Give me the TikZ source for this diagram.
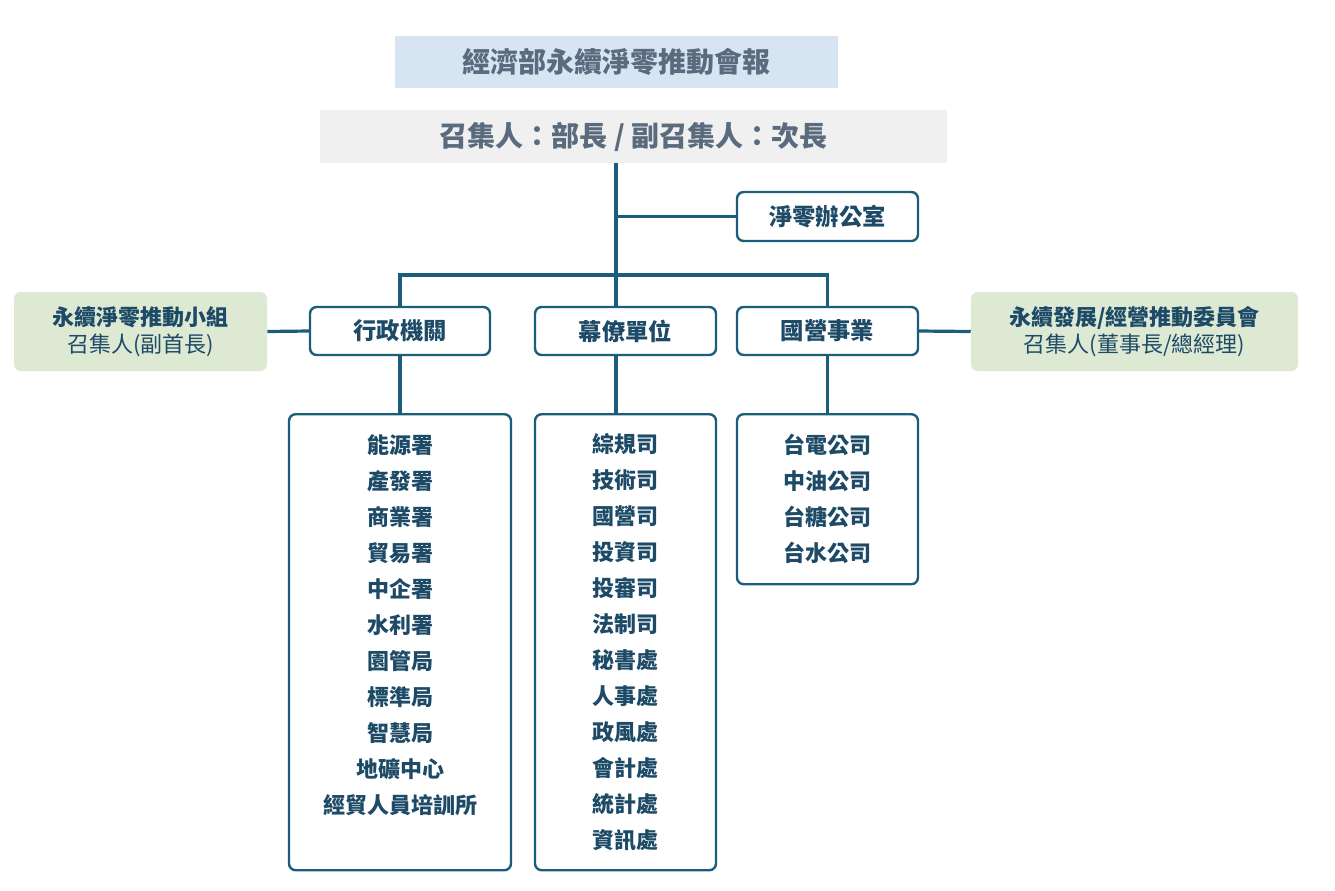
\documentclass[tikz,border=0pt]{standalone}
\usepackage{fontspec}
\setmainfont{Noto Sans CJK TC}
\usetikzlibrary{positioning}
\definecolor{lineblue}{HTML}{1B5E7B}
\definecolor{textblue}{HTML}{1D4A66}
\definecolor{titlefill}{HTML}{D7E5F3}
\definecolor{graytext}{HTML}{5B6B7E}
\definecolor{greenfill}{HTML}{DDE9D3}
\begin{document}
\begin{tikzpicture}[x=0.75pt,y=-0.75pt,
			unitbox/.style={draw=lineblue, line width=1.8pt, rounded corners=5pt, fill=white, text=textblue, font=\bfseries\fontsize{17.5}{20}\selectfont, inner sep=0pt},
			listbox/.style={unitbox, anchor=north, align=center, font=\bfseries\fontsize{16.5}{27}\selectfont},
			groupbox/.style={fill=greenfill, rounded corners=5pt, text=textblue, align=center, inner sep=0pt, font=\fontsize{16.5}{20}\selectfont},
			link/.style={draw=lineblue, line width=2.4pt},
			]
			\useasboundingbox (0,0) rectangle (1335,890);
			%Headers
			\node[fill=titlefill, text=graytext, minimum width=443*0.75pt, minimum height=52*0.75pt, font=\bfseries\fontsize{21}{23}\selectfont] (title) at (616.5,62) {經濟部永續淨零推動會報};
			\node[fill=black!6, text=graytext, minimum width=627*0.75pt, minimum height=53*0.75pt, font=\bfseries\fontsize{21}{24}\selectfont] (chair) at (633.5,136.5) {召集人：部長 / 副召集人：次長};
			%Units
			\node[unitbox, minimum width=181*0.75pt, minimum height=49*0.75pt] (office) at (827.5,216.5) {淨零辦公室};
			\node[unitbox, minimum width=180*0.75pt, minimum height=48*0.75pt] (admin) at (400,331) {行政機關};
			\node[unitbox, minimum width=181*0.75pt, minimum height=48*0.75pt] (staff) at (625.5,331) {幕僚單位};
			\node[unitbox, minimum width=181*0.75pt, minimum height=48*0.75pt] (soe) at (827.5,331) {國營事業};
			\node[groupbox, minimum width=253*0.75pt, minimum height=79*0.75pt] (leftgrp) at (140.5,331.5) {\textbf{永續淨零推動小組}\\召集人(副首長)};
			\node[groupbox, minimum width=327*0.75pt, minimum height=79*0.75pt] (rightgrp) at (1134.5,331.5) {\textbf{永續發展/經營推動委員會}\\召集人(董事長/總經理)};
			%Lists
			\node[listbox, minimum width=222*0.75pt, minimum height=456*0.75pt, inner ysep=14pt] (adminlist) at (400,413)
				{能源署\\產發署\\商業署\\貿易署\\中企署\\水利署\\園管局\\標準局\\智慧局\\地礦中心\\經貿人員培訓所\\\mbox{}};
			\node[listbox, minimum width=181*0.75pt, minimum height=456*0.75pt, inner ysep=14pt] (stafflist) at (625.5,413)
				{綜規司\\技術司\\國營司\\投資司\\投審司\\法制司\\秘書處\\人事處\\政風處\\會計處\\統計處\\資訊處};
			\node[listbox, minimum width=181*0.75pt, minimum height=170*0.75pt, inner ysep=14pt] (soelist) at (827.5,413)
				{台電公司\\中油公司\\台糖公司\\台水公司};
			%Links
			\coordinate (hub) at (616,275);
			\coordinate (tap) at (616,216.5);
			\draw[link] (chair.south -| hub) -- (hub);
			\draw[link] (tap) -- (office.west);
			\draw[link] (admin.north) |- (hub) -| (soe.north);
			\draw[link] (hub) -- (hub |- staff.north);
			\draw[link] (leftgrp.east) -- (admin.west);
			\draw[link] (soe.east) -- (rightgrp.west);
			\draw[link] (admin.south) -- (adminlist.north);
			\draw[link] (staff.south -| hub) -- (stafflist.north -| hub);
			\draw[link] (soe.south) -- (soelist.north);
		\end{tikzpicture}
\end{document}
